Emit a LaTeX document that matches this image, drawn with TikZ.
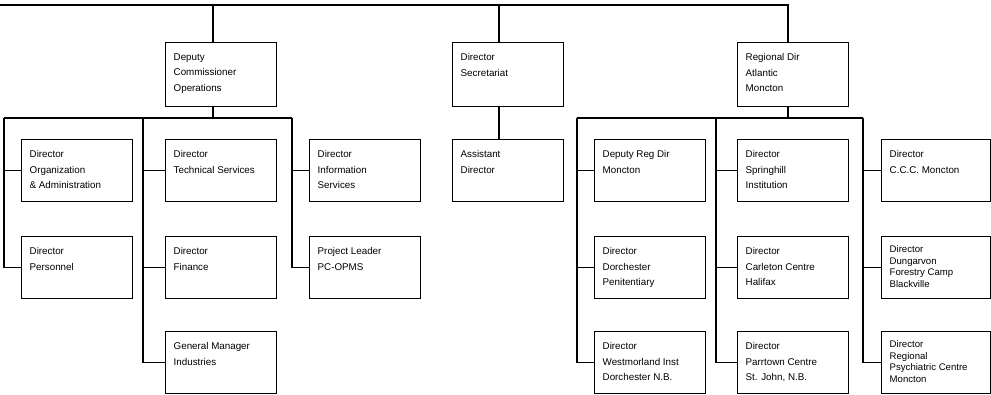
\documentclass[tikz,border=0pt]{standalone}
\usepackage{fontspec}
\setmainfont{Liberation Sans}
\begin{document}
\begin{tikzpicture}[x=1pt,y=-1pt,line width=1.4pt,
  box/.style={draw, line width=1.4pt, minimum width=111pt, minimum height=62pt, inner sep=0pt, anchor=north west},
  topbox/.style={box, minimum height=64pt},
  gbox/.style={box, minimum width=109pt},
  lbl/.style={anchor=north west, inner sep=0pt, align=left, font=\fontsize{9.8}{15.5}\selectfont},
  tlbl/.style={anchor=north west, inner sep=0pt, align=left, font=\fontsize{9.6}{11.6}\selectfont}]
\useasboundingbox (0,0) rectangle (991,395);
% top row
\node[topbox] (dc) at (165,42) {};
\node[topbox] (ds) at (452,42) {};
\node[topbox] (dr) at (737,42) {};
% left group
\node[box] (a1) at (21,139) {};
\node[box] (a2) at (21,236) {};
\node[box] (b1) at (165,139) {};
\node[box] (b2) at (165,236) {};
\node[box] (b3) at (165,331) {};
\node[box] (c1) at (309,139) {};
\node[box] (c2) at (309,236) {};
% middle
\node[box] (d1) at (452,139) {};
% right group
\node[box] (e1) at (594,139) {};
\node[box] (e2) at (594,236) {};
\node[box] (e3) at (594,331) {};
\node[box] (f1) at (737,139) {};
\node[box] (f2) at (737,236) {};
\node[box] (f3) at (737,331) {};
\node[gbox] (g1) at (881,139) {};
\node[gbox] (g2) at (881,236) {};
\node[gbox] (g3) at (881,331) {};
% labels
\node[lbl] (tdc) at ([shift={(8,11)}]dc.north west) {Deputy\\Commissioner\\Operations};
\node[lbl] (tds) at ([shift={(8,11)}]ds.north west) {Director\\Secretariat};
\node[lbl] (tdr) at ([shift={(8,11)}]dr.north west) {Regional Dir\\Atlantic\\Moncton};
\node[lbl] (ta1) at ([shift={(8,11)}]a1.north west) {Director\\Organization\\\& Administration};
\node[lbl] (ta2) at ([shift={(8,11)}]a2.north west) {Director\\Personnel};
\node[lbl] (tb1) at ([shift={(8,11)}]b1.north west) {Director\\Technical Services};
\node[lbl] (tb2) at ([shift={(8,11)}]b2.north west) {Director\\Finance};
\node[lbl] (tb3) at ([shift={(8,11)}]b3.north west) {General Manager\\Industries};
\node[lbl] (tc1) at ([shift={(8,11)}]c1.north west) {Director\\Information\\Services};
\node[lbl] (tc2) at ([shift={(8,11)}]c2.north west) {Project Leader\\PC-OPMS};
\node[lbl] (td1) at ([shift={(8,11)}]d1.north west) {Assistant\\Director};
\node[lbl] (te1) at ([shift={(8,11)}]e1.north west) {Deputy Reg Dir\\Moncton};
\node[lbl] (te2) at ([shift={(8,11)}]e2.north west) {Director\\Dorchester\\Penitentiary};
\node[lbl] (te3) at ([shift={(8,11)}]e3.north west) {Director\\Westmorland Inst\\Dorchester N.B.};
\node[lbl] (tf1) at ([shift={(8,11)}]f1.north west) {Director\\Springhill\\Institution};
\node[lbl] (tf2) at ([shift={(8,11)}]f2.north west) {Director\\Carleton Centre\\Halifax};
\node[lbl] (tf3) at ([shift={(8,11)}]f3.north west) {Director\\Parrtown Centre\\St. John, N.B.};
\node[lbl] (tg1) at ([shift={(8,11)}]g1.north west) {Director\\C.C.C. Moncton};
\node[tlbl] (tg2) at ([shift={(8,9)}]g2.north west) {Director\\Dungarvon\\Forestry Camp\\Blackville};
\node[tlbl] (tg3) at ([shift={(8,9)}]g3.north west) {Director\\Regional\\Psychiatric Centre\\Moncton};
% top line
\coordinate (t0) at (0,5);
\coordinate (jC) at (213,5);
\coordinate (jS) at (499,5);
\coordinate (jR) at (788,5);
\draw (t0) -- (jR) -- (jR |- dr.north);
\draw (jC) -- (jC |- dc.north);
\draw (jS) -- (jS |- ds.north);
\draw (jS |- ds.south) -- (jS |- d1.north);
% left bus
\coordinate (busA) at (4,118);
\coordinate (busB) at (143,118);
\coordinate (busC) at (292,118);
\draw (jC |- dc.south) -- (jC |- busA);
\draw (busA) -- (busC);
\draw (busA) |- (a2.west);
\draw (busA |- a1.west) -- (a1.west);
\draw (busB) |- (b3.west);
\draw (busB |- b1.west) -- (b1.west);
\draw (busB |- b2.west) -- (b2.west);
\draw (busC) |- (c2.west);
\draw (busC |- c1.west) -- (c1.west);
% right bus
\coordinate (busE) at (577,118);
\coordinate (busF) at (716,118);
\coordinate (busG) at (863,118);
\draw (jR |- dr.south) -- (jR |- busE);
\draw (busE) -- (busG);
\draw (busE) |- (e3.west);
\draw (busE |- e1.west) -- (e1.west);
\draw (busE |- e2.west) -- (e2.west);
\draw (busF) |- (f3.west);
\draw (busF |- f1.west) -- (f1.west);
\draw (busF |- f2.west) -- (f2.west);
\draw (busG) |- (g3.west);
\draw (busG |- g1.west) -- (g1.west);
\draw (busG |- g2.west) -- (g2.west);
\end{tikzpicture}
\end{document}
